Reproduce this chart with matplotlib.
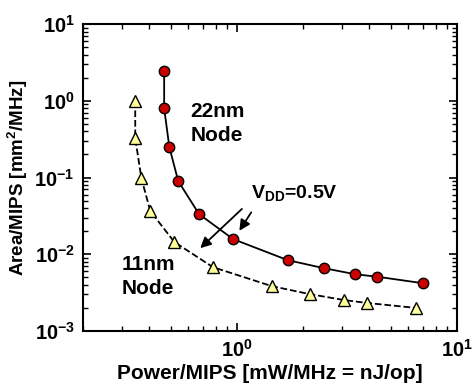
import numpy as np
import matplotlib.pyplot as plt
from matplotlib.ticker import LogLocator, NullFormatter

plt.rcParams['font.family'] = ['Liberation Sans', 'DejaVu Sans']
plt.rcParams['font.weight'] = 'bold'
plt.rcParams['mathtext.fontset'] = 'custom'
plt.rcParams['mathtext.rm'] = 'Liberation Sans:bold'
plt.rcParams['mathtext.bf'] = 'Liberation Sans:bold'
plt.rcParams['mathtext.default'] = 'bf'

# 22nm node
p22 = [0.467, 0.467, 0.493, 0.541, 0.673, 0.96, 1.70, 2.48, 3.45, 4.35, 7.0]
a22 = [2.44, 0.80, 0.25, 0.090, 0.0334, 0.0158, 0.0084, 0.0066, 0.0055, 0.0051, 0.0042]

# 11nm node
p11 = [0.345, 0.345, 0.368, 0.404, 0.519, 0.778, 1.44, 2.14, 3.08, 3.92, 6.52]
a11 = [1.0, 0.327, 0.098, 0.0366, 0.0145, 0.0068, 0.00385, 0.00303, 0.00253, 0.00232, 0.0020]

fig = plt.figure(figsize=(4.75, 3.89), dpi=100)
ax = fig.add_axes([0.175, 0.149, 0.787, 0.789])

ax.plot(p22, a22, '-', color='black', lw=1.3, marker='o', ms=7.5,
        mfc='#cc0000', mec='black', mew=1.0)
ax.plot(p11, a11, '--', color='black', lw=1.3, marker='^', ms=9,
        mfc='#ffff99', mec='black', mew=1.0)

ax.set_xscale('log')
ax.set_yscale('log')
ax.set_xlim(0.2, 10)
ax.set_ylim(1e-3, 10)

ax.xaxis.set_major_locator(LogLocator(base=10, numticks=10))
ax.xaxis.set_minor_locator(LogLocator(base=10, subs=np.arange(2, 10), numticks=10))
ax.yaxis.set_major_locator(LogLocator(base=10, numticks=10))
ax.yaxis.set_minor_locator(LogLocator(base=10, subs=np.arange(2, 10), numticks=10))
ax.xaxis.set_minor_formatter(NullFormatter())
ax.yaxis.set_minor_formatter(NullFormatter())

ax.tick_params(which='both', direction='in', top=True, right=True, labelsize=14.5)
ax.tick_params(which='major', length=6, width=1.2, pad=6)
ax.tick_params(which='minor', length=3.5, width=1.0)
for s in ax.spines.values():
    s.set_linewidth(1.5)

ax.set_xlabel('Power/MIPS [mW/MHz = nJ/op]', fontsize=15, fontweight='bold', labelpad=2)
ax.set_ylabel('Area/MIPS [mm$^2$/MHz]', fontsize=13.5, fontweight='bold', labelpad=3)

ax.text(0.613, 0.506, '22nm\nNode', fontsize=15, fontweight='bold', linespacing=1.3,
        va='center', ha='left')
ax.text(0.299, 0.00513, '11nm\nNode', fontsize=15, fontweight='bold', linespacing=1.3,
        va='center', ha='left')
ax.text(1.157, 0.0628, 'V$_{DD}$=0.5V', fontsize=14, fontweight='bold', va='center', ha='left')

arrow = dict(arrowstyle='-|>', color='black', lw=1.3, mutation_scale=16)
ax.annotate('', xy=(0.667, 0.01135), xytext=(1.076, 0.0413), arrowprops=arrow)
ax.annotate('', xy=(1.01, 0.0189), xytext=(1.18, 0.0378), arrowprops=arrow)

fig.savefig('out.png', dpi=100)
